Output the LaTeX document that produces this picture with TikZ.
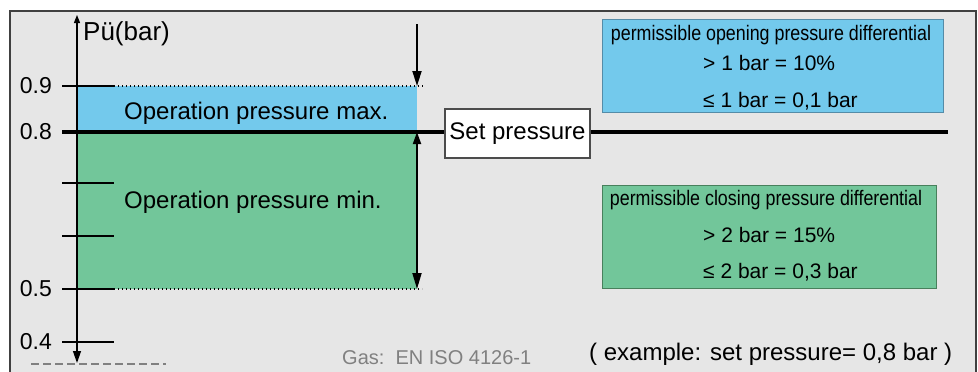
\documentclass[tikz,border=0pt]{standalone}
\usepackage{fontspec}
\setmainfont{Liberation Sans}
\newfontfamily\narrowfont[FakeStretch=0.85]{Liberation Sans}
\usetikzlibrary{arrows.meta}
\definecolor{bgGray}{RGB}{230,230,230}
\definecolor{opBlue}{RGB}{115,201,236}
\definecolor{opGreen}{RGB}{114,198,154}
\definecolor{blueEdge}{RGB}{84,140,168}
\definecolor{greenEdge}{RGB}{72,128,92}
\definecolor{gasGray}{RGB}{128,128,128}
\newcommand{\fsz}[1]{\fontsize{#1}{#1}\selectfont}

\begin{document}
\begin{tikzpicture}[x=1pt,y=-1pt,
    tick/.style={black,line width=1.9pt},
    lbl/.style={font=\fsz{23},anchor=east,inner sep=0pt},
    txt/.style={font=\fsz{24},anchor=base west,inner sep=0pt},
    boxtxt/.style={font=\fsz{21},anchor=base west,inner sep=0pt},
    boxhead/.style={font=\narrowfont\fsz{21},anchor=base,inner sep=0pt},
    dots/.style={line width=1.4pt,dash pattern=on 1.4pt off 2.6pt},
    infobox/.style={line width=1pt,inner sep=0pt,minimum width=341pt,minimum height=93pt}]
    \useasboundingbox (0,0) rectangle (978,372);
    %FRAME
    \draw[fill=bgGray,draw=black!75,line width=1.3pt] (10,11) rectangle (976,395);

    %OPERATION AREAS
    \fill[opBlue] (77,86) rectangle (417,132);
    \fill[opGreen] (77,132) rectangle (417,289);
    \draw[dots] (114,86) -- (424,86);
    \draw[dots] (114,289) -- (422,289);

    %TICKS
    \foreach \y/\n in {86/t09,183/t07,236/t06,289/t05,342/t04}{
        \coordinate (\n-l) at (62,\y);
        \coordinate (\n-r) at (114,\y);
        \draw[tick] (\n-l) -- (\n-r);
    }
    \node[lbl] (l09) at (52,86) {0.9};
    \node[lbl] (l08) at (52,132) {0.8};
    \node[lbl] (l05) at (52,289) {0.5};
    \node[lbl] (l04) at (52,342) {0.4};

    %SET PRESSURE LINE
    \coordinate (t08-l) at (62,132);
    \coordinate (lineEnd) at (948,132);
    \draw[line width=4pt] (t08-l) -- (lineEnd);

    %AXIS Y
    \coordinate (axBot) at (77,363);
    \coordinate (axTop) at (77,15);
    \draw[black,line width=1.3pt,{Triangle[length=12pt,width=8pt]}-{Triangle[length=8pt,width=6pt]}] (axBot) -- (axTop);
    \node[txt,font=\fsz{26}] (unit) at (83,40) {Pü(bar)};
    \draw[gasGray,line width=1.2pt,dash pattern=on 8pt off 4pt] (31,364) -- (166,364);

    %PRESSURE ARROWS
    \coordinate (arrTop) at (417,24);
    \coordinate (arrMax) at (417,86);
    \coordinate (arrSet) at (417,132);
    \coordinate (arrMin) at (417,289);
    \draw[line width=1.8pt,-{Triangle[length=15pt,width=9pt]}] (arrTop) -- (arrMax);
    \draw[line width=1.8pt,{Triangle[length=12pt,width=8pt]}-{Triangle[length=16pt,width=9pt]}] (arrSet) -- (arrMin);

    \node[txt] (opmax) at (124,119) {Operation pressure max.};
    \node[txt] (opmin) at (124,208) {Operation pressure min.};
    \node[draw=black!70,fill=white,line width=1.1pt,inner sep=0pt,minimum width=145pt,minimum height=49pt,font=\fsz{24}] (setp) at (517.5,133.5) {Set pressure};

    %OPENING / CLOSING
    \node[infobox,draw=blueEdge,fill=opBlue] (openbox) at (772.5,65.5) {};
    \node[boxhead] (openhead) at (771,40) {permissible opening pressure differential};
    \node[boxtxt] (open1) at (703,70) {> 1 bar = 10\%};
    \node[boxtxt] (open2) at (703,107) {≤ 1 bar = 0,1 bar};

    \node[infobox,draw=greenEdge,fill=opGreen,minimum width=334pt,minimum height=103pt] (closebox) at (769,236.5) {};
    \node[boxhead] (closehead) at (766,205) {permissible closing pressure differential};
    \node[boxtxt] (close1) at (703,242) {> 2 bar = 15\%};
    \node[boxtxt] (close2) at (703,278) {≤ 2 bar = 0,3 bar};

    %NOTES
    \node[font=\fsz{20},anchor=base west,inner sep=0pt,text=gasGray] (gas) at (342,364) {Gas:\ \ EN ISO 4126-1};
    \node[txt] (example) at (589,360) {( example: set pressure= 0,8 bar )};
\end{tikzpicture}
\end{document}
